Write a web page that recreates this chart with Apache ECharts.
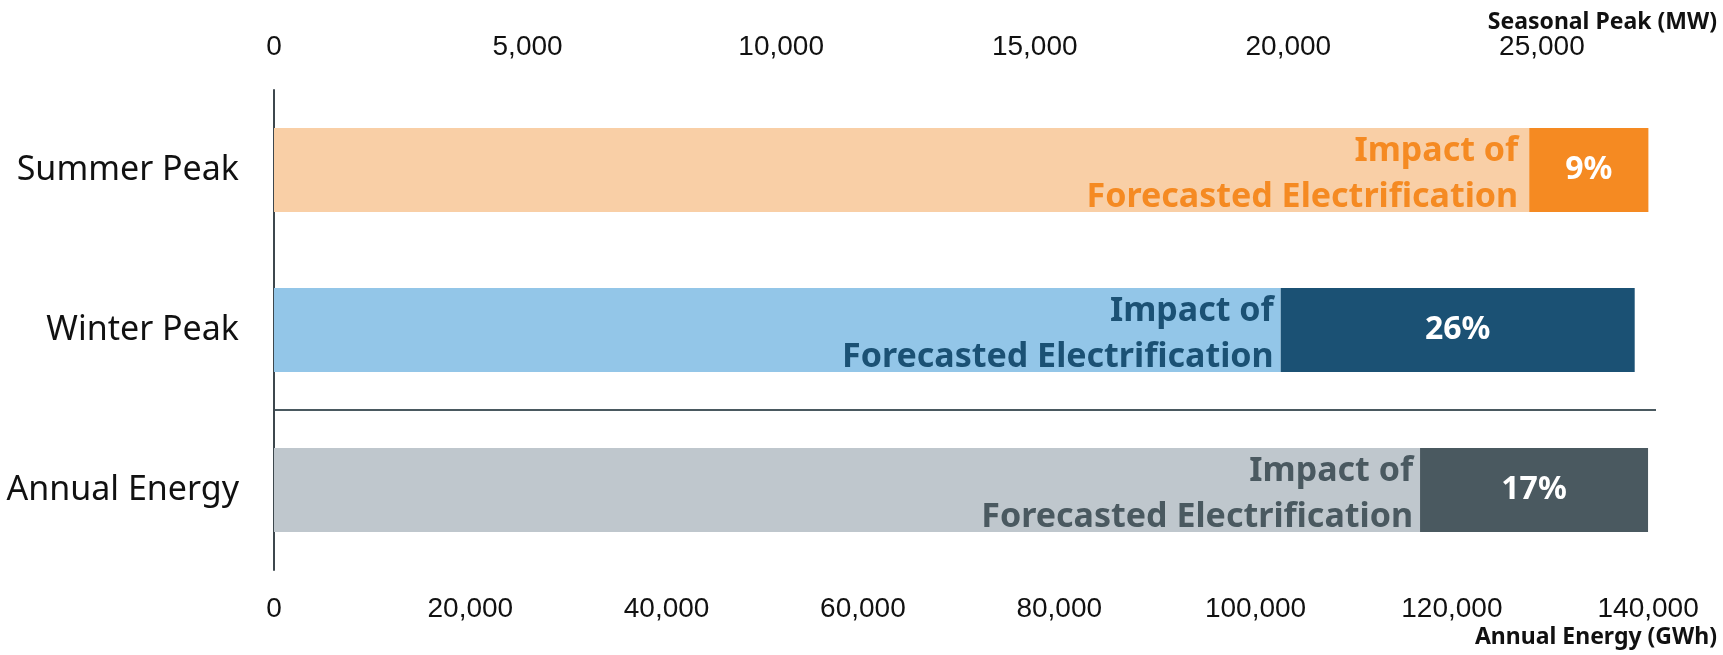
<!DOCTYPE html>
<html>
<head>
<meta charset="utf-8">
<script src="https://cdn.jsdelivr.net/npm/echarts@6/dist/echarts.min.js"></script>
<style>
  html, body { margin: 0; padding: 0; background: #ffffff; }
  #chart { width: 1723px; height: 655px; }
</style>
</head>
<body>
<div id="chart"></div>
<script>
// ---- data ----
const categories = ['Summer Peak', 'Winter Peak', 'Annual Energy'];
// Seasonal peaks (MW) on the top axis
const peakBaseMW = [24750, 19850, null];
const peakElectrificationMW = [2350, 6980, null];
// Annual energy (GWh) on the bottom axis
const energyBaseGWh = [null, null, 116760];
const energyElectrificationGWh = [null, null, 23230];
// axes
const topAxisTitle = 'Seasonal Peak (MW)';
const bottomAxisTitle = 'Annual Energy (GWh)';
const topTickStep = 5000;
const bottomTickStep = 20000;
const topAxisMax = 27250;
const bottomAxisMax = 140800;
const impactLabel = 'Impact of\nForecasted Electrification';

// ---- styles ----
const lightColors = ['#F9CFA6', '#93C6E8', '#BFC7CD'];
const darkColors = ['#F58A22', '#1B5174', '#4A5960'];
const labelGap = [11, 7, 7];

const fmt = (step) => (v) => (v % step === 0 ? v.toLocaleString('en-US') : '');

function baseItems(values) {
  return values.map((v, i) => v == null ? '-' : {
    value: v,
    itemStyle: { color: lightColors[i] },
    label: { color: darkColors[i], distance: labelGap[i] }
  });
}
function impactItems(values, bases) {
  return values.map((v, i) => v == null ? '-' : {
    value: v,
    itemStyle: { color: darkColors[i] },
    label: { formatter: Math.round(v / (v + bases[i]) * 100) + '%' }
  });
}

const baseLabel = {
  show: true,
  position: 'insideRight',
  formatter: impactLabel,
  fontFamily: 'Noto Sans',
  fontWeight: 'bold',
  fontSize: 34,
  lineHeight: 46,
  align: 'right',
  offset: [0, 4]
};
const impactLabelStyle = {
  show: true,
  position: 'inside',
  color: '#ffffff',
  fontFamily: 'Noto Sans',
  fontWeight: 'bold',
  fontSize: 32
};

const chart = echarts.init(document.getElementById('chart'), null, { renderer: 'canvas' });
chart.setOption({
  animation: false,
  backgroundColor: '#ffffff',
  title: [
    { text: topAxisTitle, right: 6, top: 11, padding: 0,
      textStyle: { fontFamily: 'Noto Sans', fontWeight: 'bold', fontSize: 23, color: '#111111' } },
    { text: bottomAxisTitle, right: 6, top: 626, padding: 0,
      textStyle: { fontFamily: 'Noto Sans', fontWeight: 'bold', fontSize: 23, color: '#111111' } }
  ],
  grid: { left: 274, right: 67, top: 90, bottom: 85 },
  xAxis: [
    {
      type: 'value', position: 'top', min: 0, max: topAxisMax, interval: topTickStep,
      axisLine: { show: false }, axisTick: { show: false }, splitLine: { show: false },
      axisLabel: { margin: 29, fontFamily: 'Liberation Sans', fontSize: 28, color: '#111111',
        showMaxLabel: false, formatter: fmt(topTickStep) }
    },
    {
      type: 'value', position: 'bottom', min: 0, max: bottomAxisMax, interval: bottomTickStep,
      axisLine: { show: false }, axisTick: { show: false }, splitLine: { show: false },
      axisLabel: { margin: 25, fontFamily: 'Liberation Sans', fontSize: 28, color: '#111111',
        showMaxLabel: false, formatter: fmt(bottomTickStep) }
    }
  ],
  yAxis: {
    type: 'category', data: categories, inverse: true,
    axisLine: { show: true, lineStyle: { color: '#3D474D', width: 2 } },
    axisTick: { show: false },
    axisLabel: { margin: 35, fontFamily: 'Noto Sans', fontSize: 34, color: '#111111' },
    splitLine: { show: true, lineStyle: { width: 2,
      color: ['rgba(0,0,0,0)', 'rgba(0,0,0,0)', '#4A5960', 'rgba(0,0,0,0)'] } }
  },
  series: [
    { name: 'Peak base', type: 'bar', xAxisIndex: 0, stack: 'peak', barWidth: 84, barGap: '-100%',
      label: baseLabel, data: baseItems(peakBaseMW) },
    { name: 'Peak electrification', type: 'bar', xAxisIndex: 0, stack: 'peak', barWidth: 84, barGap: '-100%',
      label: impactLabelStyle, data: impactItems(peakElectrificationMW, peakBaseMW) },
    { name: 'Energy base', type: 'bar', xAxisIndex: 1, stack: 'energy', barWidth: 84, barGap: '-100%',
      label: baseLabel, data: baseItems(energyBaseGWh) },
    { name: 'Energy electrification', type: 'bar', xAxisIndex: 1, stack: 'energy', barWidth: 84, barGap: '-100%',
      label: impactLabelStyle, data: impactItems(energyElectrificationGWh, energyBaseGWh) }
  ]
});
</script>
</body>
</html>
